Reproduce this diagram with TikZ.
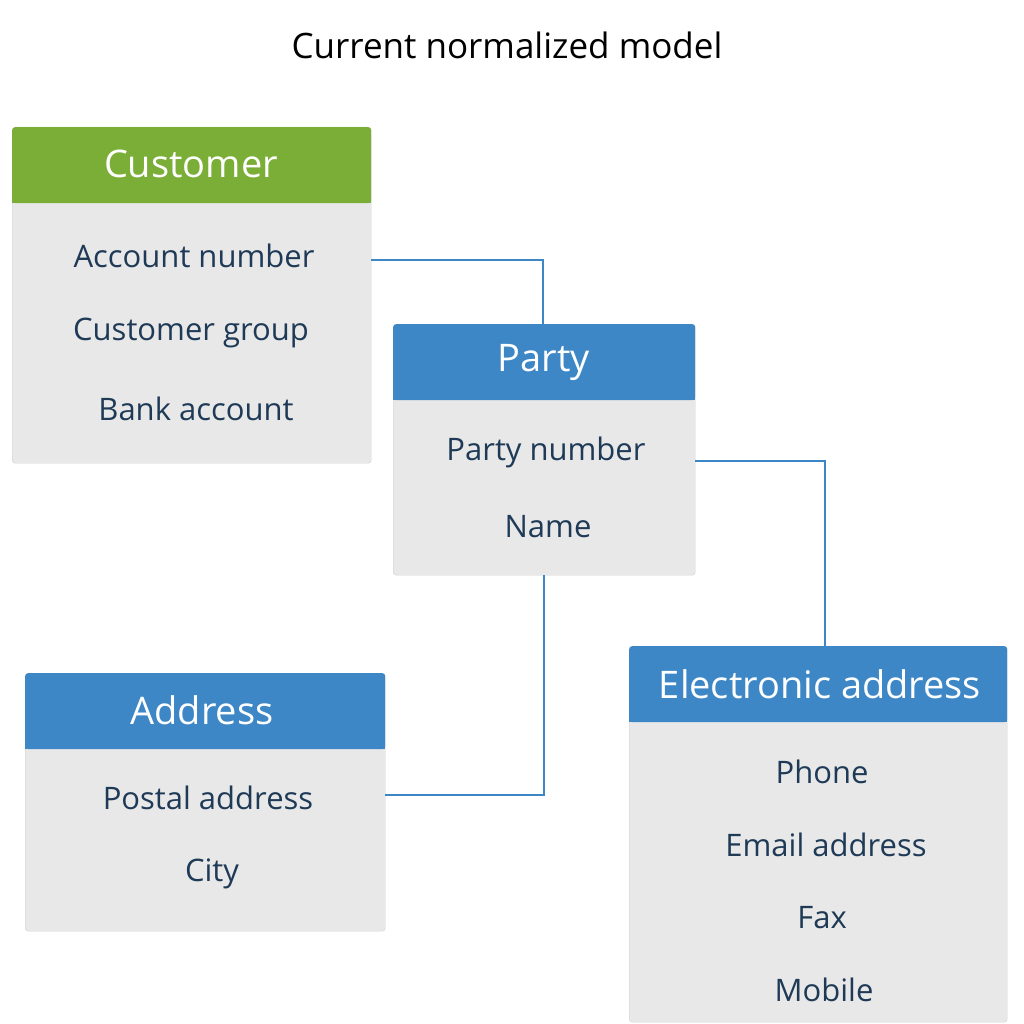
\documentclass[tikz,border=0pt]{standalone}
\usepackage{fontspec}
\setmainfont{Open Sans}
\definecolor{hgreen}{HTML}{7BAE37}
\definecolor{hblue}{HTML}{3D87C7}
\definecolor{bodyg}{HTML}{E8E8E8}
\definecolor{txt}{HTML}{1F3A57}
\definecolor{lnk}{HTML}{3D87C7}
\begin{document}
\begin{tikzpicture}[x=1pt,y=-1pt,
  body/.style={fill=bodyg,draw=bodyg!90!black,line width=0.4pt,rounded corners=3pt,anchor=north west,inner sep=0pt},
  head/.style={fill=#1,rounded corners=3pt,anchor=north west,inner sep=0pt,text=white,font=\fontsize{38}{40}\selectfont},
  item/.style={text=txt,font=\fontsize{31}{34}\selectfont},
  link/.style={draw=lnk,line width=1.8pt}]
\useasboundingbox (0,0) rectangle (1024,1024);
\node[font=\fontsize{35}{38}\selectfont] (title) at (507,45) {Current normalized model};
% Customer
\node[body,minimum width=359pt,minimum height=336pt] (cust) at (12,127) {};
\node[head=hgreen,minimum width=359pt,minimum height=76pt] (custh) at (12,127) {};
\fill[hgreen] (12,190) rectangle (371,203);
\node[text=white,font=\fontsize{38}{40}\selectfont] (custt) at (191,164) {Customer};
\node[item] (acc) at (194,256) {Account number};
\node[item] (cg) at (191,333) {Customer group};
\node[item] (bank) at (196,409) {Bank account};
% Party
\node[body,minimum width=302pt,minimum height=251pt] (party) at (393,324) {};
\node[head=hblue,minimum width=302pt,minimum height=76pt] (partyh) at (393,324) {};
\fill[hblue] (393,387) rectangle (695,400);
\node[text=white,font=\fontsize{38}{40}\selectfont] (partyt) at (544,362) {Party};
\node[item] (pn) at (546,452) {Party number};
\node[item] (name) at (548,527) {Name};
% Address
\node[body,minimum width=360pt,minimum height=258pt] (addr) at (25,673) {};
\node[head=hblue,minimum width=360pt,minimum height=76pt] (addrh) at (25,673) {};
\fill[hblue] (25,736) rectangle (385,749);
\node[text=white,font=\fontsize{38}{40}\selectfont] (addrt) at (202,710) {Address};
\node[item] (post) at (208,798) {Postal address};
\node[item] (city) at (212,874) {City};
% Electronic address
\node[body,minimum width=378pt,minimum height=376pt] (elec) at (629,646) {};
\node[head=hblue,minimum width=378pt,minimum height=76pt] (elech) at (629,646) {};
\fill[hblue] (629,709) rectangle (1007,722);
\node[text=white,font=\fontsize{38}{40}\selectfont] (elect) at (820,684) {Electronic address};
\node[item] (phone) at (822,772) {Phone};
\node[item] (email) at (826,845) {Email address};
\node[item] (fax) at (822,918) {Fax};
\node[item] (mob) at (824,990) {Mobile};
% connectors
\draw[link] (371,260) -- (543,260) -- (partyh.north -| 543,0);
\draw[link] (695,461) -- (825,461) -- (elech.north -| 825,0);
\draw[link] (party.south -| 544,0) -- (544,795) -- (385,795);
\end{tikzpicture}
\end{document}
